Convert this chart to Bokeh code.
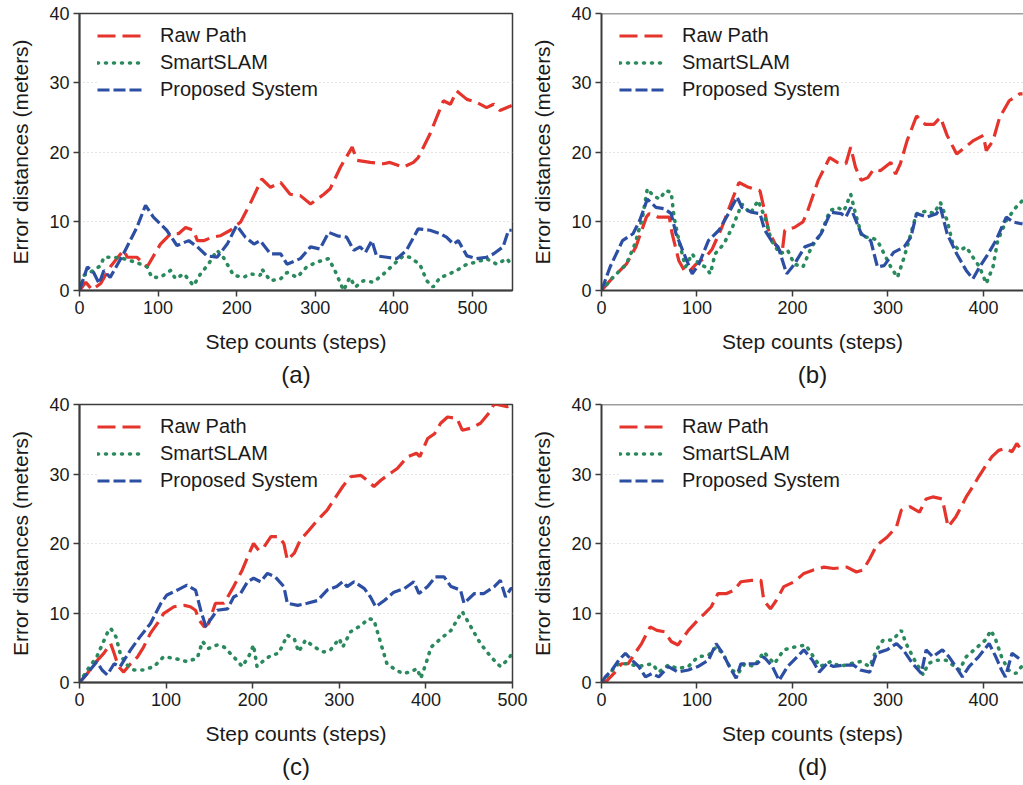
from bokeh.plotting import figure
from bokeh.models import Range1d, Legend, LegendItem, Title, Span, FixedTicker
from bokeh.layouts import row, column
from bokeh.embed import file_html
from bokeh.resources import INLINE

# ---------------- data ----------------
series_names = ["Raw Path", "SmartSLAM", "Proposed System"]
captions = ["(a)", "(b)", "(c)", "(d)"]
y_ticks = [0, 10, 20, 30, 40]

# panel (a)
a_raw_x = [0, 8, 16, 27, 39, 56, 61, 73, 86, 103, 116, 126, 135, 145, 150, 158, 169, 179, 192, 205,
           217, 232, 243, 256, 268, 281, 294, 311, 319, 332, 347, 353, 370, 387, 395, 412, 425, 431, 446, 463,
           472, 480, 493, 505, 518, 527, 535, 550]
a_raw_y = [0, 1.2, 0.1, 1.0, 3.4, 5.8, 4.8, 4.8, 3.4, 6.7, 8.2, 8.2, 9.1, 8.7, 7.2, 7.2, 7.7, 7.9, 8.7, 9.9,
           12.5, 16.1, 14.9, 15.6, 13.9, 13.7, 12.5, 13.9, 14.7, 17.8, 20.7, 18.8, 18.5, 18.3, 18.5, 17.8, 18.5, 19.2, 22.6, 27.4,
           26.9, 28.8, 27.6, 27.2, 26.4, 26.9, 26.0, 26.7]
a_slam_x = [0, 6, 18, 27, 31, 44, 56, 65, 78, 86, 92, 103, 116, 122, 133, 145, 154, 164, 175, 183,
            196, 209, 217, 230, 232, 243, 256, 264, 277, 289, 302, 317, 325, 336, 344, 351, 361, 374, 387, 400,
            412, 420, 433, 442, 450, 459, 467, 480, 493, 505, 518, 531, 544, 550]
a_slam_y = [0, 2.2, 2.9, 3.6, 4.8, 4.8, 4.6, 4.3, 3.8, 3.4, 1.9, 1.9, 2.9, 1.7, 2.4, 0.7, 2.4, 3.8, 5.8, 4.8,
            2.2, 1.9, 2.4, 2.2, 3.1, 1.4, 1.7, 2.6, 1.9, 3.4, 4.1, 4.6, 2.9, 0.0, 1.9, 0.5, 1.4, 1.2, 2.4, 3.8,
            5.0, 4.8, 3.8, 1.4, 0.5, 1.9, 2.2, 2.9, 3.8, 4.1, 4.6, 3.8, 4.6, 3.6]
a_prop_x = [0, 10, 18, 25, 31, 39, 56, 73, 84, 94, 111, 124, 139, 150, 162, 175, 188, 200, 211, 222,
            230, 243, 256, 264, 281, 294, 306, 317, 328, 340, 349, 357, 364, 372, 378, 391, 404, 416, 431, 446,
            459, 467, 476, 482, 493, 505, 518, 527, 539, 546, 550]
a_prop_y = [0, 3.4, 2.6, 1.0, 2.9, 1.9, 5.3, 9.1, 12.3, 10.6, 8.7, 6.5, 7.2, 6.3, 5.0, 4.8, 6.7, 9.4, 7.7, 6.7,
            7.2, 5.3, 5.3, 3.8, 4.6, 6.3, 6.0, 8.4, 7.9, 7.7, 5.8, 6.3, 5.5, 7.2, 5.0, 4.8, 4.6, 5.8, 8.9, 8.7,
            8.2, 7.7, 6.7, 7.2, 5.0, 4.6, 4.8, 5.3, 6.3, 8.7, 8.7]

# panel (b)
b_raw_x = [0, 12, 26, 36, 47, 50, 59, 71, 74, 81, 88, 93, 99, 109, 116, 126, 138, 144, 154, 166,
           170, 175, 182, 189, 192, 202, 211, 216, 227, 239, 247, 256, 261, 266, 272, 279, 285, 292, 303, 308,
           313, 320, 330, 339, 348, 355, 362, 372, 381, 389, 400, 403, 410, 417, 427, 438, 441]
b_raw_y = [0, 1.9, 3.8, 6.3, 10.6, 11.1, 10.6, 10.6, 8.2, 4.3, 2.6, 2.9, 3.8, 4.8, 6.0, 9.1, 13.5, 15.6, 14.9, 14.4,
           12.0, 8.7, 6.7, 5.3, 8.7, 9.1, 9.9, 11.5, 15.9, 19.2, 18.5, 18.3, 20.7, 17.8, 15.9, 16.3, 17.5, 17.3, 18.5, 16.8,
           18.3, 21.6, 25.2, 24.0, 24.0, 25.0, 22.4, 19.7, 20.7, 21.6, 22.4, 20.2, 21.6, 25.0, 27.4, 28.4, 28.4]
b_slam_x = [0, 12, 26, 35, 43, 48, 54, 61, 67, 73, 76, 81, 88, 95, 102, 109, 114, 119, 128, 137,
            147, 156, 164, 171, 178, 187, 195, 202, 211, 220, 230, 239, 247, 254, 261, 266, 273, 282, 289, 296,
            303, 310, 317, 324, 330, 341, 348, 355, 362, 368, 375, 382, 389, 396, 403, 410, 415, 424, 434, 441]
b_slam_y = [0, 1.9, 3.8, 6.7, 10.6, 14.7, 13.7, 13.2, 14.4, 14.2, 10.6, 7.2, 3.4, 5.3, 3.8, 3.4, 2.4, 5.3, 6.7, 9.1,
            12.5, 11.1, 13.0, 10.6, 7.2, 5.3, 5.8, 3.8, 3.4, 6.3, 8.2, 11.5, 12.0, 11.5, 13.9, 11.1, 7.7, 7.7, 7.2, 5.3,
            3.4, 1.9, 4.8, 8.2, 11.1, 11.5, 11.1, 12.7, 10.1, 6.7, 5.8, 6.3, 4.8, 3.4, 1.0, 3.4, 7.2, 10.1, 12.0, 13.0]
b_prop_x = [0, 9, 22, 33, 40, 48, 57, 66, 73, 78, 85, 92, 95, 102, 112, 123, 133, 142, 147, 157,
            166, 171, 178, 185, 194, 202, 213, 221, 230, 240, 251, 256, 261, 265, 272, 282, 289, 296, 306, 317,
            324, 330, 341, 351, 355, 362, 372, 382, 389, 396, 405, 413, 424, 431, 441]
b_prop_y = [0, 3.4, 7.2, 8.2, 10.1, 13.2, 12.0, 11.8, 11.1, 8.2, 5.8, 3.4, 2.4, 3.8, 7.2, 8.7, 11.1, 13.5, 12.0, 11.3,
            11.1, 8.7, 7.2, 6.3, 2.4, 3.8, 6.3, 6.7, 8.2, 11.3, 11.1, 10.6, 12.0, 10.6, 8.2, 7.2, 3.4, 3.6, 5.5, 6.3,
            7.7, 11.1, 10.6, 11.1, 12.0, 8.2, 5.3, 2.9, 1.7, 3.4, 5.3, 7.2, 10.6, 9.9, 9.6]

# panel (c)
c_raw_x = [0, 9, 17, 28, 36, 40, 45, 51, 59, 67, 74, 82, 90, 97, 109, 121, 128, 134, 138, 144,
           149, 157, 167, 178, 188, 196, 201, 207, 213, 221, 230, 236, 240, 248, 255, 265, 275, 286, 296, 304,
           313, 325, 332, 340, 348, 359, 367, 379, 389, 393, 402, 410, 417, 425, 436, 442, 452, 463, 473, 479,
           486, 494, 500]
c_raw_y = [0, 1.3, 2.7, 4.2, 5.6, 4.2, 2.3, 1.5, 2.7, 3.7, 5.1, 7.1, 8.5, 9.9, 10.9, 11.1, 10.9, 10.4, 9.0, 8.0,
           8.5, 11.4, 11.4, 13.8, 16.2, 18.6, 20.0, 19.0, 19.5, 21.0, 21.0, 20.0, 17.6, 18.6, 20.5, 21.9, 23.4, 24.8, 26.7, 28.2,
           29.6, 29.8, 29.1, 28.2, 29.1, 30.1, 30.8, 32.5, 33.0, 32.5, 35.1, 35.8, 37.3, 38.2, 38.0, 36.3, 36.6, 37.3, 38.8, 40.1,
           39.9, 39.7, 39.9]
c_slam_x = [0, 9, 20, 32, 36, 42, 47, 53, 63, 74, 86, 97, 109, 124, 136, 142, 149, 159, 167, 178,
            188, 196, 201, 205, 213, 221, 230, 240, 248, 253, 261, 271, 282, 290, 300, 304, 313, 325, 334, 340,
            348, 355, 363, 373, 382, 390, 394, 400, 406, 417, 429, 436, 442, 452, 463, 475, 486, 494, 500]
c_slam_y = [0, 1.8, 3.7, 7.1, 7.8, 6.6, 4.2, 2.7, 1.8, 1.8, 2.3, 3.7, 3.5, 3.0, 3.5, 5.9, 4.9, 5.4, 5.1, 3.7,
            2.3, 3.9, 5.4, 2.3, 3.2, 3.9, 4.2, 6.8, 6.3, 4.4, 6.1, 5.1, 4.4, 4.7, 6.3, 5.1, 7.3, 8.2, 9.2, 9.0,
            5.6, 2.7, 2.0, 1.3, 1.5, 2.0, 0.6, 2.7, 5.1, 6.3, 7.5, 9.0, 10.2, 8.0, 5.6, 3.7, 2.3, 3.2, 4.2]
c_prop_x = [0, 9, 20, 26, 32, 40, 47, 59, 70, 82, 94, 101, 113, 124, 134, 140, 146, 151, 159, 171,
            178, 186, 194, 201, 209, 217, 226, 236, 240, 252, 263, 275, 286, 297, 304, 309, 317, 329, 336, 342,
            352, 363, 375, 386, 392, 402, 411, 421, 429, 440, 444, 456, 467, 479, 486, 492, 498, 500]
c_prop_y = [0, 1.3, 3.0, 1.8, 1.1, 2.7, 2.3, 4.7, 6.6, 8.5, 11.4, 12.6, 13.3, 14.0, 13.3, 10.4, 8.0, 9.0, 10.4, 10.6,
            12.3, 12.8, 14.5, 15.0, 14.5, 15.7, 15.2, 13.8, 11.4, 11.1, 11.4, 11.8, 13.3, 13.8, 14.5, 13.8, 14.5, 13.5, 12.3, 10.9,
            11.8, 13.0, 13.5, 14.5, 12.8, 13.8, 15.2, 15.2, 13.8, 13.3, 11.4, 12.8, 12.8, 13.8, 14.7, 12.3, 13.5, 13.5]

# panel (d)
d_raw_x = [0, 6, 13, 21, 28, 35, 42, 51, 58, 66, 73, 80, 91, 101, 108, 115, 122, 131, 139, 146,
           157, 167, 170, 177, 183, 191, 202, 212, 222, 233, 243, 257, 267, 274, 281, 288, 299, 309, 314, 323,
           333, 340, 347, 357, 363, 371, 382, 389, 395, 404, 409, 416, 423, 430, 435, 440]
d_raw_y = [0, 0.3, 1.3, 2.7, 2.7, 4.2, 5.6, 8.0, 7.5, 7.3, 5.9, 5.4, 7.5, 9.0, 9.9, 10.9, 12.8, 12.8, 13.3, 14.5,
           14.7, 14.7, 11.8, 10.6, 11.8, 13.8, 14.5, 15.7, 16.2, 16.6, 16.4, 16.6, 15.9, 16.2, 17.8, 19.7, 20.9, 22.4, 24.8, 25.3,
           24.5, 26.4, 26.7, 26.4, 22.4, 23.8, 26.7, 28.2, 29.6, 31.5, 32.5, 33.4, 33.7, 33.2, 34.4, 33.4]
d_slam_x = [0, 8, 18, 28, 39, 46, 53, 60, 70, 80, 91, 101, 112, 120, 127, 136, 143, 150, 160, 170,
            181, 191, 202, 214, 222, 229, 240, 250, 260, 271, 281, 288, 295, 305, 314, 319, 328, 337, 342, 350,
            361, 368, 375, 382, 392, 402, 408, 413, 419, 426, 434, 440]
d_slam_y = [0, 1.3, 2.7, 2.7, 2.3, 2.5, 2.7, 1.5, 2.5, 2.0, 2.3, 3.7, 3.9, 5.1, 4.2, 1.8, 1.3, 2.7, 2.3, 4.4,
            2.7, 4.7, 5.1, 5.4, 3.7, 2.3, 3.0, 2.3, 2.7, 3.0, 2.3, 4.7, 6.1, 6.1, 7.5, 5.6, 3.2, 1.1, 2.7, 3.2,
            3.2, 2.5, 1.8, 3.7, 4.9, 6.1, 7.5, 6.1, 3.7, 1.8, 1.3, 2.3]
d_prop_x = [0, 4, 11, 18, 25, 32, 39, 46, 53, 60, 70, 80, 91, 101, 112, 120, 127, 134, 141, 146,
            153, 163, 170, 179, 186, 195, 205, 212, 221, 228, 236, 243, 254, 264, 271, 281, 288, 299, 309, 316,
            326, 335, 340, 347, 357, 364, 371, 378, 385, 395, 406, 413, 419, 423, 430, 440]
d_prop_y = [0, 0.8, 1.8, 3.2, 4.2, 3.2, 2.3, 0.8, 1.3, 0.8, 2.3, 1.5, 1.8, 2.3, 3.2, 5.6, 4.2, 2.3, 0.6, 2.7,
            2.7, 2.7, 3.7, 2.3, 0.3, 2.3, 3.7, 4.7, 3.2, 1.5, 2.7, 2.3, 2.5, 2.5, 1.8, 1.5, 4.2, 4.7, 5.6, 4.7,
            2.7, 1.3, 4.7, 3.7, 4.7, 3.7, 2.3, 0.8, 2.3, 3.7, 5.6, 3.7, 1.8, 0.8, 4.2, 3.2]

# ---------------- styling ----------------
FONT = "Liberation Sans"
RED = "#e4342b"
GREEN = "#2a8a5e"
BLUE = "#2c4ea3"
AXIS_COL = "#3c3c3c"
ROW_H = 27


def make_panel(caption, x_end, series, width, height, left, right, top, bottom, right_box):
    frame_h = height - top - bottom
    p = figure(width=width, height=height, output_backend="svg", toolbar_location=None,
               x_range=Range1d(0, x_end), y_range=Range1d(0, 40),
               min_border_left=left, min_border_right=right,
               min_border_top=top, min_border_bottom=bottom,
               background_fill_color="white", border_fill_color="white")
    p.outline_line_color = AXIS_COL if right_box else None
    p.outline_line_width = 1.5
    if not right_box:
        p.add_layout(Span(location=40, dimension="width", line_color=AXIS_COL, line_width=1.5))

    p.xgrid.visible = False
    p.ygrid.ticker = FixedTicker(ticks=[10, 20, 30])
    p.ygrid.grid_line_color = "#c8c8c8"
    p.ygrid.grid_line_dash = "1 3"
    p.ygrid.grid_line_width = 1

    p.yaxis.ticker = FixedTicker(ticks=y_ticks)
    p.xaxis.ticker = FixedTicker(ticks=list(range(0, 600, 100)))
    for ax in (p.xaxis, p.yaxis):
        ax.axis_line_color = AXIS_COL
        ax.axis_line_width = 2
        ax.major_tick_line_color = AXIS_COL
        ax.major_tick_line_width = 1.5
        ax.major_tick_out = 6
        ax.major_tick_in = 0
        ax.minor_tick_line_color = None
        ax.major_label_text_font = FONT
        ax.major_label_text_font_size = "18px"
        ax.major_label_text_color = "#1a1a1a"
        ax.major_label_standoff = 4
        ax.axis_label_text_font = FONT
        ax.axis_label_text_font_size = "21px"
        ax.axis_label_text_font_style = "normal"
        ax.axis_label_text_color = "#1a1a1a"
    p.xaxis.axis_label = "Step counts (steps)"
    p.xaxis.axis_label_standoff = 13
    p.yaxis.axis_label = "Error distances (meters)"
    p.yaxis.axis_label_standoff = 14

    (rx, ry), (sx, sy), (px, py) = series
    r1 = p.line(rx, ry, line_color=RED, line_width=3.2, line_dash="18 7")
    r2 = p.line(sx, sy, line_color=GREEN, line_width=3.6, line_dash="1 7", line_cap="round")
    r3 = p.line(px, py, line_color=BLUE, line_width=3.2, line_dash="12 4")

    legend_h = 3 * ROW_H
    legend = Legend(items=[LegendItem(label=series_names[0], renderers=[r1]),
                           LegendItem(label=series_names[1], renderers=[r2]),
                           LegendItem(label=series_names[2], renderers=[r3])],
                    location=(18, frame_h - 9 - legend_h), margin=0, padding=0,
                    glyph_width=48, glyph_height=ROW_H, label_height=ROW_H, spacing=0,
                    label_standoff=15, label_text_font=FONT, label_text_font_size="20px",
                    label_text_color="#1a1a1a", border_line_color=None,
                    background_fill_color="white", background_fill_alpha=1.0)
    p.add_layout(legend)

    p.add_layout(Title(text=caption, align="center", text_font=FONT, text_font_size="24px",
                       text_font_style="normal", text_color="#1a1a1a", standoff=6), "below")
    return p


pa = make_panel(captions[0], 551, [(a_raw_x, a_raw_y), (a_slam_x, a_slam_y), (a_prop_x, a_prop_y)],
                528, 392, 79, 16, 13, 102, True)
pb = make_panel(captions[1], 442, [(b_raw_x, b_raw_y), (b_slam_x, b_slam_y), (b_prop_x, b_prop_y)],
                495, 392, 70, 0, 13, 102, False)
pc = make_panel(captions[2], 500, [(c_raw_x, c_raw_y), (c_slam_x, c_slam_y), (c_prop_x, c_prop_y)],
                528, 392, 79, 16, 12, 102, True)
pd = make_panel(captions[3], 442, [(d_raw_x, d_raw_y), (d_slam_x, d_slam_y), (d_prop_x, d_prop_y)],
                495, 392, 71, 0, 12, 102, False)

layout = column(row(pa, pb), row(pc, pd))
open("out.html", "w").write(file_html(layout, INLINE))
